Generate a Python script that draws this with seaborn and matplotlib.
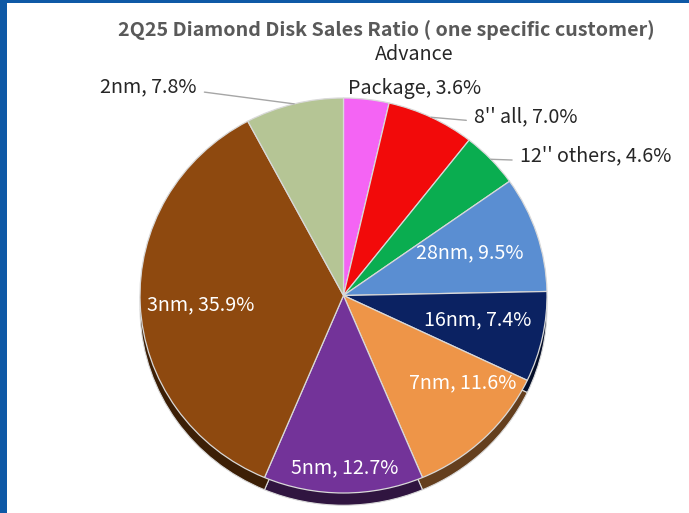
import numpy as np
import matplotlib
matplotlib.use('Agg')
import matplotlib.pyplot as plt
import matplotlib.colors as mcolors
import seaborn as sns

# slices, clockwise from 12 o'clock
labels = ['Advance\nPackage', "8'' all", "12'' others", '28nm', '16nm', '7nm', '5nm', '3nm', '2nm']
shares = [3.6, 7.0, 4.6, 9.5, 7.4, 11.6, 12.7, 35.9, 7.8]
colors = ['#f464f4', '#f20a0a', '#0aad50', '#5a8ed2', '#0b2262',
          '#ee9548', '#733399', '#8e490f', '#b5c595']
inside = [False, False, False, True, True, True, True, True, False]
# label anchors in pie units (radius 1), as Excel placed them
label_xy = [(0.35, 1.135), (0.64, 0.905), (0.865, 0.706), (0.622, 0.215), (0.66, -0.124),
            (0.587, -0.443), (0.007, -0.873), (-0.70, -0.048), (-0.72, 1.056)]
label_ha = ['center', 'left', 'left', 'center', 'center', 'center', 'center', 'center', 'right']

sns.set_theme(style='white')
plt.rcParams['font.family'] = ['Noto Sans CJK TC', 'DejaVu Sans']

W, H = 689, 513
fig = plt.figure(figsize=(W / 100, H / 100), dpi=100, facecolor='#0e59a6')
# white panel inside the blue frame
left_px, top_px = 7, 3
ax = fig.add_axes([left_px / W, 0, 1 - left_px / W, 1 - top_px / H], facecolor='white')

cx, cy, rx, ry = 343.5, 295.5, 203.5, 197.5
depth = 0.062
dark = [tuple(np.array(mcolors.to_rgb(c)) * 0.42) for c in colors]

# side / shadow of the 3D pie
ax.pie(shares, colors=dark, startangle=90, counterclock=False, center=(0, -depth),
       radius=1, frame=True, wedgeprops=dict(edgecolor='#d9d9d9', linewidth=0.8))
# top face
ax.pie(shares, colors=colors, startangle=90, counterclock=False, radius=1, frame=True,
       wedgeprops=dict(edgecolor='#d9d9d9', linewidth=0.9))
ax.set_aspect('auto')
ax.set_xlim((left_px - cx) / rx, (W - cx) / rx)
ax.set_ylim((cy - H) / ry, (cy - top_px) / ry)
ax.set_xticks([])
ax.set_yticks([])
for s in ax.spines.values():
    s.set_visible(False)

total = sum(shares)
cum = np.cumsum([0] + shares[:-1])
fs = 14.2
for i, (lab, v) in enumerate(zip(labels, shares)):
    mid = np.deg2rad((cum[i] + v / 2) / total * 360)
    ex, ey = np.sin(mid), np.cos(mid)
    text = f'{lab}, {v:.1f}%'
    tx, ty = label_xy[i]
    ha = label_ha[i]
    if inside[i]:
        ax.text(tx, ty, text, ha=ha, va='center', color='white', fontsize=fs)
    elif i == 0:
        ax.text(tx, ty, text, ha=ha, va='center', color='#262626', fontsize=fs,
                linespacing=1.85, multialignment='center')
    else:
        relx = 0.0 if ha == 'left' else 1.0
        ax.annotate(text, xy=(ex, ey), xytext=(tx, ty), ha=ha, va='center',
                    color='#262626', fontsize=fs,
                    arrowprops=dict(arrowstyle='-', color='#a6a6a6', lw=1,
                                    relpos=(relx, 0.3), shrinkA=3, shrinkB=0))

fig.text(386 / W, 1 - 30 / H, '2Q25 Diamond Disk Sales Ratio ( one specific customer)',
         ha='center', va='center', fontsize=14.2, fontweight='bold', color='#595959')

fig.savefig('out.png', dpi=100, facecolor=fig.get_facecolor())
